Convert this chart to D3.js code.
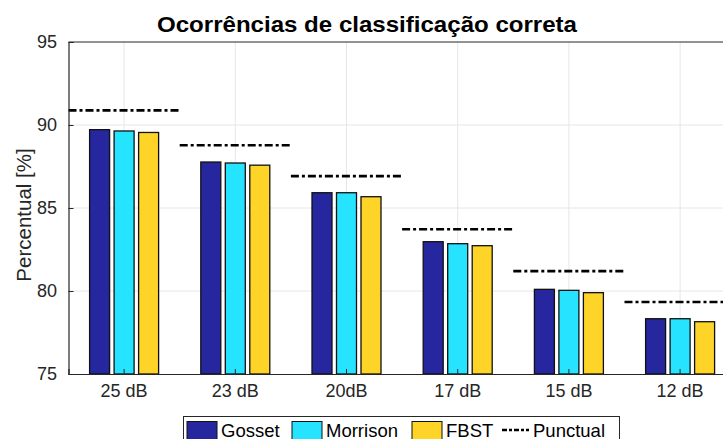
<!DOCTYPE html>
<html>
<head>
<meta charset="utf-8">
<script src="https://cdn.jsdelivr.net/npm/d3@7"></script>
<style>
  body { margin: 0; background: #fff; }
  svg { font-family: "Liberation Sans", Arial, sans-serif; }
</style>
</head>
<body>
<svg id="chart" width="723" height="439"></svg>
<script>
// data
const categories = ['25 dB', '23 dB', '20dB', '17 dB', '15 dB', '12 dB'];
const gosset   = [89.72, 87.77, 85.92, 82.97, 80.10, 78.33];
const morrison = [89.64, 87.71, 85.92, 82.85, 80.04, 78.33];
const fbst     = [89.55, 87.58, 85.68, 82.73, 79.90, 78.15];
const punctual = [90.88, 88.78, 86.92, 83.72, 81.20, 79.34];
const yTicks = [75, 80, 85, 90, 95];

const seriesNames = ['Gosset', 'Morrison', 'FBST'];
const seriesColors = ['#26269e', '#26e4ff', '#ffd428'];
const seriesValues = [gosset, morrison, fbst];

const svg = d3.select('#chart');

// plot box (right side runs past the window, as in the original)
const plotLeft = 68.5, plotTop = 42, plotBottom = 374;
const step = 111.2;
const plotRight = plotLeft + step * categories.length;

const x = d3.scaleBand()
    .domain(categories)
    .range([plotLeft, plotRight]);

const y = d3.scaleLinear()
    .domain([75, 95])
    .range([plotBottom, plotTop]);

// bar offsets inside a group
const barW = 20;
const barStep = 24.5;
const offsets = [-barStep, 0, barStep];
const cx = d => x(d) + x.bandwidth() / 2;

// grid
const grid = svg.append('g').attr('stroke', '#e6e6e6').attr('stroke-width', 1);
grid.selectAll('.gx')
    .data(categories)
    .join('line')
    .attr('x1', cx).attr('x2', cx)
    .attr('y1', plotTop).attr('y2', plotBottom);
grid.selectAll('.gy')
    .data(yTicks.slice(1, -1))
    .join('line')
    .attr('x1', plotLeft).attr('x2', plotRight)
    .attr('y1', d => y(d)).attr('y2', d => y(d));

// bars
seriesValues.forEach((vals, i) => {
    svg.append('g')
        .selectAll('rect')
        .data(categories)
        .join('rect')
        .attr('x', d => cx(d) + offsets[i] - barW / 2)
        .attr('y', (d, j) => y(vals[j]))
        .attr('width', barW)
        .attr('height', (d, j) => y(75) - y(vals[j]))
        .attr('fill', seriesColors[i])
        .attr('stroke', '#111')
        .attr('stroke-width', 1.3);
});

// punctual reference lines
svg.append('g')
    .selectAll('line')
    .data(categories)
    .join('line')
    .attr('x1', d => x(d))
    .attr('x2', d => x(d) + x.bandwidth())
    .attr('y1', (d, j) => y(punctual[j]))
    .attr('y2', (d, j) => y(punctual[j]))
    .attr('stroke', '#000')
    .attr('stroke-width', 2.6)
    .attr('stroke-dasharray', '8,3,3,3');

// axes
const yAxis = d3.axisLeft(y).tickValues(yTicks).tickSize(-5).tickPadding(11.5);
const gy = svg.append('g')
    .attr('transform', `translate(${plotLeft},0)`)
    .call(yAxis);
const xAxis = d3.axisBottom(x).tickSize(-5).tickPadding(10);
const gx = svg.append('g')
    .attr('transform', `translate(0,${plotBottom})`)
    .call(xAxis);

[gx, gy].forEach(g => {
    g.select('.domain').attr('stroke', '#262626').attr('stroke-width', 1.2);
    g.selectAll('.tick line').attr('stroke', '#262626');
    g.selectAll('.tick text')
        .attr('fill', '#262626')
        .style('font-size', '18px')
        .style('font-family', '"Liberation Sans", Arial, sans-serif');
});

// top border
svg.append('line')
    .attr('x1', plotLeft).attr('x2', plotRight)
    .attr('y1', plotTop).attr('y2', plotTop)
    .attr('stroke', '#262626').attr('stroke-width', 1.2);

// title and y label
svg.append('text')
    .attr('x', 157).attr('y', 32)
    .attr('textLength', 420)
    .attr('lengthAdjust', 'spacingAndGlyphs')
    .style('font-size', '22px')
    .style('font-weight', 'bold')
    .attr('fill', '#000')
    .text('Ocorrências de classificação correta');

svg.append('text')
    .attr('transform', 'translate(31,215) rotate(-90)')
    .attr('text-anchor', 'middle')
    .style('font-size', '20.5px')
    .attr('fill', '#262626')
    .text('Percentual [%]');

// legend
const legend = svg.append('g');
legend.append('rect')
    .attr('x', 183.5).attr('y', 416.5)
    .attr('width', 436).attr('height', 30)
    .attr('fill', '#fff')
    .attr('stroke', '#262626')
    .attr('stroke-width', 1);

const legendX = [187, 292, 412];
seriesNames.forEach((name, i) => {
    legend.append('rect')
        .attr('x', legendX[i]).attr('y', 421.5)
        .attr('width', 30).attr('height', 20)
        .attr('fill', seriesColors[i])
        .attr('stroke', '#111')
        .attr('stroke-width', 1);
    legend.append('text')
        .attr('x', legendX[i] + 34).attr('y', 437)
        .style('font-size', '18.5px')
        .attr('fill', '#000')
        .text(name);
});
legend.append('line')
    .attr('x1', 502).attr('x2', 529)
    .attr('y1', 430).attr('y2', 430)
    .attr('stroke', '#000')
    .attr('stroke-width', 2.4)
    .attr('stroke-dasharray', '5,2,3,2');
legend.append('text')
    .attr('x', 533).attr('y', 437)
    .style('font-size', '18.5px')
    .attr('fill', '#000')
    .text('Punctual');
</script>
</body>
</html>
